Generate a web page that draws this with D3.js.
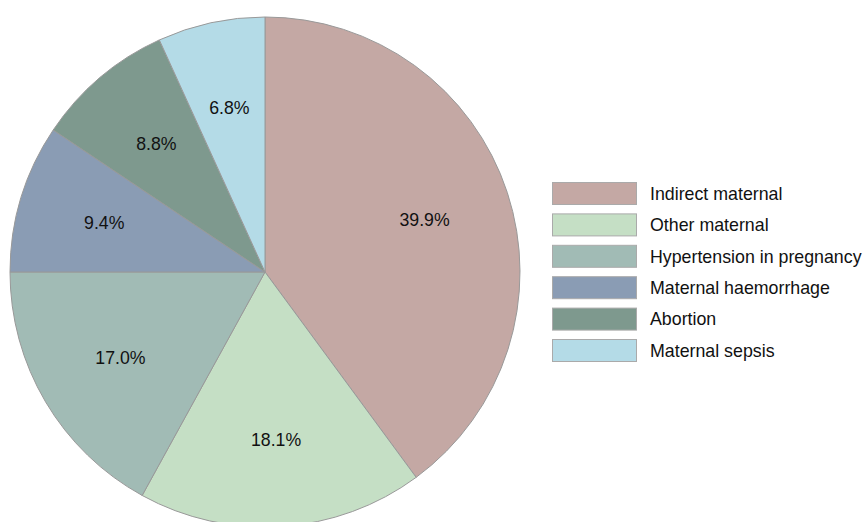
<!DOCTYPE html>
<html>
<head>
<meta charset="utf-8">
<script src="https://cdn.jsdelivr.net/npm/d3@7"></script>
<style>
  body { margin: 0; background: #fff; }
  text { font-family: "Liberation Sans", Arial, sans-serif; }
</style>
</head>
<body>
<div id="chart"></div>
<script>
// Data
const causes = ["Indirect maternal", "Other maternal", "Hypertension in pregnancy",
                "Maternal haemorrhage", "Abortion", "Maternal sepsis"];
const shares = [39.9, 18.1, 17.0, 9.4, 8.8, 6.8];
const sliceColors = ["#c4a8a4", "#c5dfc5", "#a1bbb5", "#8a9cb4", "#7e998e", "#b4dbe7"];

const width = 866, height = 522;
const cx = 265, cy = 272, radius = 255;

const svg = d3.select("#chart").append("svg")
    .attr("width", width)
    .attr("height", height);

const color = d3.scaleOrdinal().domain(causes).range(sliceColors);

const data = causes.map(function(c, i) { return { name: c, value: shares[i] }; });

const pie = d3.pie()
    .sort(null)
    .value(function(d) { return d.value; });

const arc = d3.arc().innerRadius(0).outerRadius(radius);
const labelArc = d3.arc().innerRadius(168).outerRadius(168);

const g = svg.append("g").attr("transform", "translate(" + cx + "," + cy + ")");

const slices = g.selectAll("g.slice")
    .data(pie(data))
    .enter().append("g")
    .attr("class", "slice");

slices.append("path")
    .attr("d", arc)
    .attr("fill", function(d) { return color(d.data.name); })
    .attr("stroke", "#999")
    .attr("stroke-width", 1);

slices.append("text")
    .attr("transform", function(d) { return "translate(" + labelArc.centroid(d) + ")"; })
    .attr("text-anchor", "middle")
    .attr("dy", "0.35em")
    .style("font-size", "17.7px")
    .attr("fill", "#111")
    .text(function(d) { return d3.format(".1f")(d.data.value) + "%"; });

// Legend
const legend = svg.append("g")
    .attr("transform", "translate(552,182)");

const rows = legend.selectAll("g")
    .data(causes)
    .enter().append("g")
    .attr("transform", function(d, i) { return "translate(0," + (i * 31.4) + ")"; });

rows.append("rect")
    .attr("x", 0.5).attr("y", 0.5)
    .attr("width", 84).attr("height", 22)
    .attr("fill", function(d) { return color(d); })
    .attr("stroke", "#aaa");

rows.append("text")
    .attr("x", 98)
    .attr("y", 11.5)
    .attr("dy", "0.35em")
    .style("font-size", "17.8px")
    .attr("fill", "#111")
    .text(function(d) { return d; });
</script>
</body>
</html>
